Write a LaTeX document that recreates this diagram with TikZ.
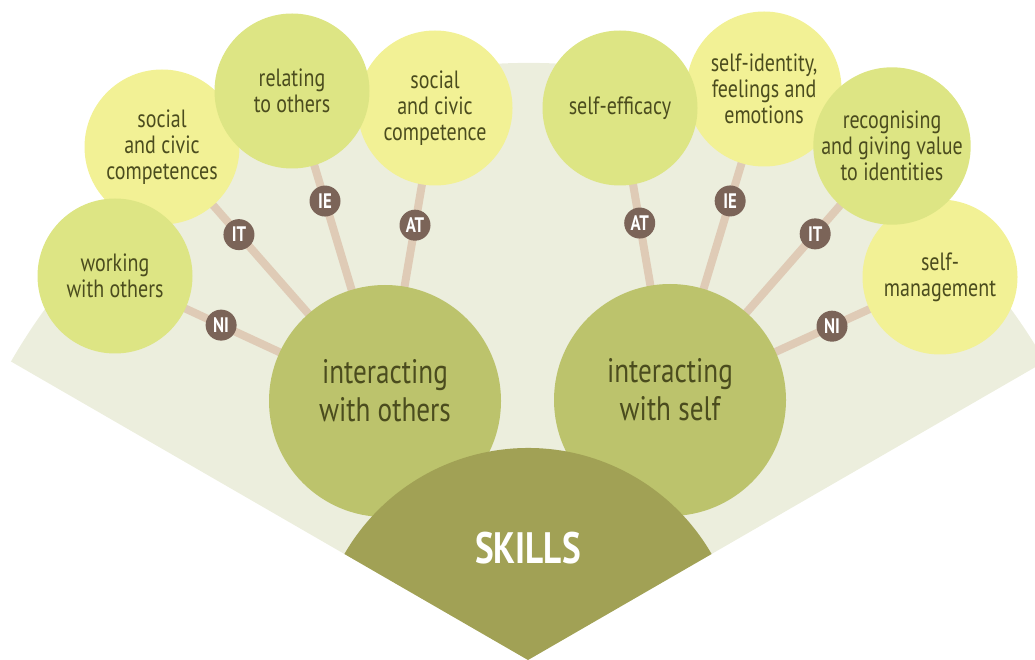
\documentclass[tikz,border=0pt]{standalone}
\usepackage{fontspec}
\setmainfont{PT Sans}[FakeStretch=0.8]
\usetikzlibrary{backgrounds}
\definecolor{fanbg}{HTML}{ECEEDD}
\definecolor{skillolive}{HTML}{A1A155}
\definecolor{hubgreen}{HTML}{BCC36C}
\definecolor{leafgreen}{HTML}{DDE584}
\definecolor{leafyellow}{HTML}{F2F195}
\definecolor{linktan}{HTML}{DFCBB6}
\definecolor{badgebrown}{HTML}{7B6458}
\definecolor{txtolive}{HTML}{4B4C1E}

\begin{document}
\begin{tikzpicture}[x=1pt,y=1pt,
    hub/.style={circle,fill=hubgreen,minimum size=232pt,inner sep=0pt},
    hubtext/.style={align=center,text=txtolive,font=\fontsize{34}{38}\selectfont},
    leaf/.style={circle,minimum size=155pt,inner sep=0pt,align=center,text=txtolive,font=\fontsize{25}{26}\selectfont},
    lime/.style={leaf,fill=leafgreen},
    lemon/.style={leaf,fill=leafyellow},
    link/.style={line width=8pt,draw=linktan},
    badge/.style={circle,fill=badgebrown,minimum size=31pt,inner sep=0pt,text=white,font=\bfseries\fontsize{21}{21}\selectfont}]
\useasboundingbox (0,0) rectangle (1035,659);

\node[lemon] (scs) at (162,512) {social\\and civic\\competences};
\node[lemon] (scc) at (435,551) {social\\and civic\\competence};
\node[lemon] (ident) at (764,570) {self-identity,\\feelings and\\emotions};
\node[lemon] (mgmt) at (940,382) {self-\\management};
\node[lime] (work) at (115,383) {working\\with others};
\node[lime] (rel) at (292,568) {relating\\to others};
\node[lime] (eff) at (620,551) {self-efficacy};
\node[lime] (recog) at (892,513) {recognising\\and giving value\\to identities};

\node[hub] (oth) at (385,258) {};
\node[hub] (slf) at (670,259) {};
\node[hubtext] (othtxt) at ([yshift=10]oth) {interacting\\with others};
\node[hubtext] (slftxt) at ([yshift=10]slf) {interacting\\with self};

\fill[skillolive] (528,-1) -- ++(150:212) arc (150:30:212) -- cycle;
\node[text=white,font=\bfseries\fontsize{44}{44}\selectfont] (skills) at (528,111) {SKILLS};

\begin{scope}[on background layer]
\fill[fanbg] (528,-1) -- ++(150:597) arc (150:30:597) -- cycle;
\path[link] (oth.center) -- node[badge,pos=0.607] (ni1) {NI} (work.center);
\path[link] (oth.center) -- node[badge,pos=0.655] (it1) {IT} (scs.center);
\path[link] (oth.center) -- node[badge,pos=0.645] (ie1) {IE} (rel.center);
\path[link] (oth.center) -- node[badge,pos=0.6] (at1) {AT} (scc.center);
\path[link] (slf.center) -- node[badge,pos=0.606] (at2) {AT} (eff.center);
\path[link] (slf.center) -- node[badge,pos=0.64] (ie2) {IE} (ident.center);
\path[link] (slf.center) -- node[badge,pos=0.654] (it2) {IT} (recog.center);
\path[link] (slf.center) -- node[badge,pos=0.6] (ni2) {NI} (mgmt.center);
\end{scope}
\end{tikzpicture}
\end{document}
